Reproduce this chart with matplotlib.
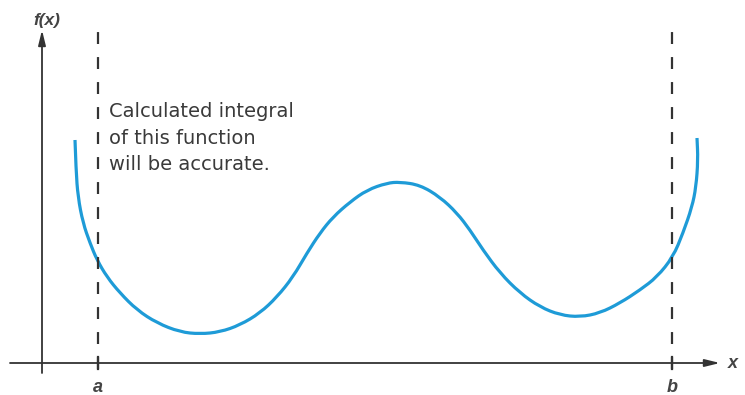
import matplotlib
matplotlib.use("Agg")
import matplotlib.pyplot as plt
from matplotlib.path import Path
from matplotlib.patches import PathPatch

# curve (origin where the axes cross)
curve_x = [33, 34, 36, 41, 48, 55, 65, 78, 95, 115, 138, 158, 178, 198, 218, 235,
           251, 265, 278, 291, 308, 325, 345, 358, 378, 398, 415, 428, 441, 458,
           478, 498, 518, 538, 558, 578, 598, 615, 631, 641, 650, 654, 656, 655]
curve_y = [223, 193, 166, 140, 120, 103, 86, 70, 53, 40, 31, 29, 31, 38, 50, 66,
           86, 110, 130, 146, 161, 173, 180, 181, 178, 166, 150, 133, 113, 90,
           70, 56, 48, 46, 50, 60, 73, 86, 106, 130, 156, 176, 203, 225]

limit_pos = [56, 630]
limit_labels = ["a", "b"]
note = "Calculated integral\nof this function\nwill be accurate."

ink = "#333333"
plt.rcParams["lines.scale_dashes"] = False

fig = plt.figure(figsize=(7.45, 3.95), dpi=100)
ax = fig.add_axes([0, 0, 1, 1])
ax.set_xlim(-42, 703)
ax.set_ylim(-32, 363)
ax.axis("off")

# axes with arrow heads
arrow = dict(arrowstyle="-|>,head_length=0.9,head_width=0.22", color=ink, lw=1.3,
             shrinkA=0, shrinkB=0)
ax.annotate("", xy=(678, 0), xytext=(-32, 0), arrowprops=arrow)
ax.annotate("", xy=(0, 333), xytext=(0, -10), arrowprops=arrow)

# integration limits
for xp, lab in zip(limit_pos, limit_labels):
    ax.plot([xp, xp], [-6, 333], color=ink, lw=1.6, linestyle=(0, (8.6, 9.4)))
    ax.plot([xp, xp], [-6, 6], color=ink, lw=1.6)
    ax.text(xp, -24, lab, ha="center", va="center", fontsize=13,
            style="italic", fontweight="bold", color="#444444", family="Liberation Sans")

# smooth path through the read points (quadratic segments between midpoints)
pts = list(zip(curve_x, curve_y))
verts = [pts[0]]
codes = [Path.MOVETO]
for i in range(1, len(pts) - 1):
    mid = ((pts[i][0] + pts[i + 1][0]) / 2, (pts[i][1] + pts[i + 1][1]) / 2)
    verts += [pts[i], mid]
    codes += [Path.CURVE3, Path.CURVE3]
verts.append(pts[-1])
codes.append(Path.LINETO)
ax.add_patch(PathPatch(Path(verts, codes), facecolor="none", edgecolor="#1e9bd7",
                       lw=2.3, capstyle="butt", joinstyle="round"))

ax.text(5, 343, "f(x)", ha="center", va="center", fontsize=12.5, style="italic",
        fontweight="bold", color="#444444", family="Liberation Sans")
ax.text(691, 0, "x", ha="center", va="center", fontsize=13, style="italic",
        fontweight="bold", color="#444444", family="Liberation Sans")

ax.text(67, 261, note, ha="left", va="top", fontsize=14, color="#3a3a3a",
        family="DejaVu Sans", linespacing=1.5)

fig.savefig("out.png", dpi=100)
